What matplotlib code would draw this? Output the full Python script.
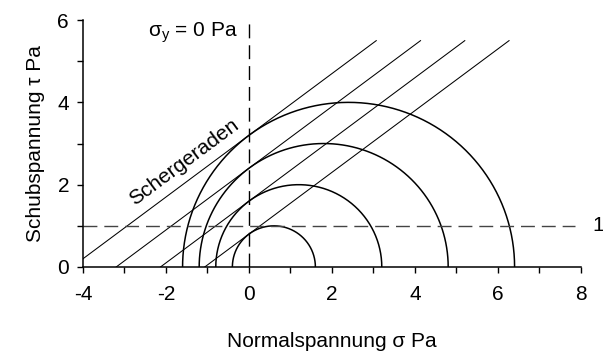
import numpy as np
import matplotlib
matplotlib.use("Agg")
import matplotlib.pyplot as plt
from matplotlib.ticker import MultipleLocator

plt.rcParams['font.family'] = ['Liberation Sans', 'DejaVu Sans']
plt.rcParams['mathtext.fontset'] = 'custom'
plt.rcParams['mathtext.rm'] = 'Liberation Sans'
plt.rcParams['axes.unicode_minus'] = False

# Mohr circles (upper halves): centre and radius
centres = [0.6, 1.2, 1.8, 2.4]
radii = [1.0, 2.0, 3.0, 4.0]

# shear lines tangent to each circle, y = slope*x + b
slope = 0.75
intercepts = [0.8, 1.6, 2.4, 3.2]
line_top = 5.5

tau_ref = 1.0     # horizontal reference line
sigma_y = 0.0     # vertical reference line

xmin, xmax = -4, 8
ymin, ymax = 0, 6
fs = 15

fig = plt.figure(figsize=(6.03, 3.52), dpi=100)
ax = fig.add_axes([0.1376, 0.2415, 0.8259, 0.7015])

for c, r in zip(centres, radii):
    t = np.linspace(0, np.pi, 400)
    ax.plot(c + r * np.cos(t), r * np.sin(t), color='black', lw=1.1)

for b in intercepts:
    x0 = max(-b / slope, xmin)
    x1 = (line_top - b) / slope
    ax.plot([x0, x1], [slope * x0 + b, slope * x1 + b], color='black', lw=0.75)

ax.plot([xmin, 7.86], [tau_ref, tau_ref], color='#444444', lw=1.0, dashes=(10, 5))
ax.plot([sigma_y, sigma_y], [ymin, ymax], color='black', lw=1.0, dashes=(10, 5))

ax.text(8.42, tau_ref, '1', fontsize=fs, ha='center', va='center', clip_on=False)
ax.text(-0.27, 5.68, r'$\mathregular{\sigma_y}$ = 0 Pa', fontsize=fs,
        ha='right', va='center')

angle = np.degrees(np.arctan(slope * (41.2 / 41.5)))
ax.text(-1.56, 2.54, 'Schergeraden', fontsize=fs, rotation=angle,
        rotation_mode='anchor', ha='center', va='center')

ax.set_xlim(xmin, xmax)
ax.set_ylim(ymin, ymax)
ax.xaxis.set_major_locator(MultipleLocator(2))
ax.xaxis.set_minor_locator(MultipleLocator(1))
ax.yaxis.set_major_locator(MultipleLocator(2))
ax.yaxis.set_minor_locator(MultipleLocator(1))
ax.tick_params(which='both', direction='out', length=4, width=1.0, labelsize=fs)
ax.tick_params(axis='x', which='major', pad=9)
ax.tick_params(axis='y', which='major', pad=6)

for side in ('top', 'right'):
    ax.spines[side].set_visible(False)
for side in ('left', 'bottom'):
    ax.spines[side].set_linewidth(1.1)

ax.set_xlabel('Normalspannung σ Pa', fontsize=fs, labelpad=20)
ax.set_ylabel('Schubspannung τ Pa', fontsize=fs, labelpad=9)

fig.savefig('out.png', dpi=100)
